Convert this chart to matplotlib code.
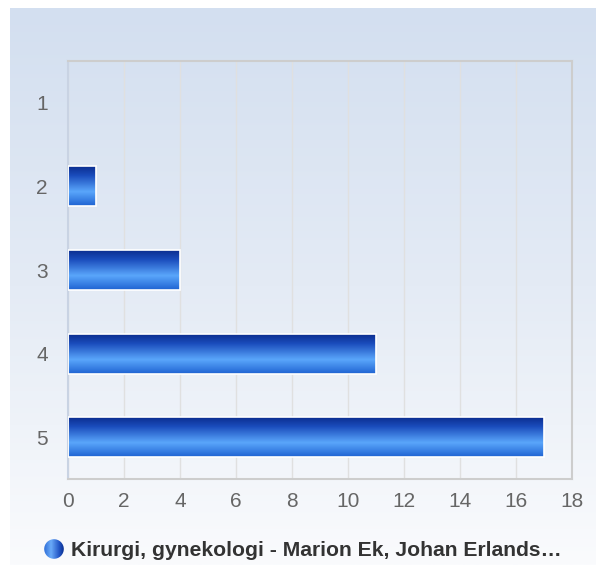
import numpy as np
import matplotlib
matplotlib.use("Agg")
import matplotlib.pyplot as plt
from matplotlib.colors import LinearSegmentedColormap
from matplotlib.patches import Circle

categories = ["1", "2", "3", "4", "5"]
values = [0, 1, 4, 11, 17]
series_name = "Kirurgi, gynekologi - Marion Ek, Johan Erlands\u2026"
xticks = [0, 2, 4, 6, 8, 10, 12, 14, 16, 18]

plt.rcParams['font.family'] = ['Liberation Sans', 'DejaVu Sans']

W, H = 596, 565
fig = plt.figure(figsize=(W / 100, H / 100), dpi=100)
fig.patch.set_facecolor("white")

# background panel with vertical gradient
bg = fig.add_axes([10 / W, 0, 586 / W, 557 / H])
bg_cmap = LinearSegmentedColormap.from_list("bg", ["#d3dff0", "#e4ebf5", "#fafbfd"])
bg.imshow(np.linspace(0, 1, 256).reshape(-1, 1), aspect="auto", cmap=bg_cmap,
          extent=(0, 1, 0, 1), origin="upper")
bg.set_axis_off()

left, right, top, bottom = 68, 572, 61, 479
ax = fig.add_axes([left / W, 1 - bottom / H, (right - left) / W, (bottom - top) / H])
ax.set_facecolor("none")

y = np.arange(len(categories))
bars = ax.barh(y, values, height=0.48, color="none", edgecolor="white", linewidth=1.2, zorder=3)

bar_cmap = LinearSegmentedColormap.from_list(
    "bar", [(0, "#0a2a8a"), (0.25, "#1a4cbc"), (0.65, "#5aa6fb"), (1, "#1f63d2")])
grad = np.linspace(0, 1, 128).reshape(-1, 1)
for b in bars:
    if b.get_width() <= 0:
        b.set_visible(False)
        continue
    x0, y0 = b.get_x(), b.get_y()
    x1, y1 = x0 + b.get_width(), y0 + b.get_height()
    im = ax.imshow(grad, aspect="auto", cmap=bar_cmap, extent=(x0, x1, y1, y0),
                   origin="upper", zorder=2)
    im.set_clip_path(b)

ax.set_xlim(0, 18)
ax.set_ylim(len(categories) - 0.5, -0.5)
ax.set_yticks(y)
ax.set_yticklabels(categories)
ax.set_xticks(xticks)
ax.tick_params(length=0, labelsize=15, labelcolor="#666666")
ax.tick_params(axis="y", pad=14.5)
ax.tick_params(axis="x", pad=9.5)
ax.grid(axis="x", color="#e0e0e0", linewidth=1, zorder=0)
for side in ["top", "right", "bottom"]:
    ax.spines[side].set_color("#cdcdcd")
    ax.spines[side].set_linewidth(1.5)
ax.spines["left"].set_color("#c9d3e3")
ax.spines["left"].set_linewidth(1.5)

# legend: gradient circle + bold label
d = 20
lg = fig.add_axes([(54 - d / 2) / W, 1 - (549 + d / 2) / H, d / W, d / H])
lg.set_axis_off()
lg.set_xlim(0, 1)
lg.set_ylim(0, 1)
dot_cmap = LinearSegmentedColormap.from_list(
    "dot", [(0, "#2f6fd8"), (0.35, "#6aaaf8"), (0.75, "#2559c8"), (1, "#0a2f92")])
dot_im = lg.imshow(np.linspace(0, 1, 64).reshape(1, -1), aspect="auto", cmap=dot_cmap,
                   extent=(0, 1, 0, 1))
circ = Circle((0.5, 0.5), 0.49, transform=lg.transData, facecolor="none", edgecolor="none")
lg.add_patch(circ)
dot_im.set_clip_path(circ)

fig.text(71 / W, 1 - 550 / H, series_name, ha="left", va="center",
         fontsize=15.2, fontweight="bold", color="#333333")

fig.savefig("out.png", dpi=100)
